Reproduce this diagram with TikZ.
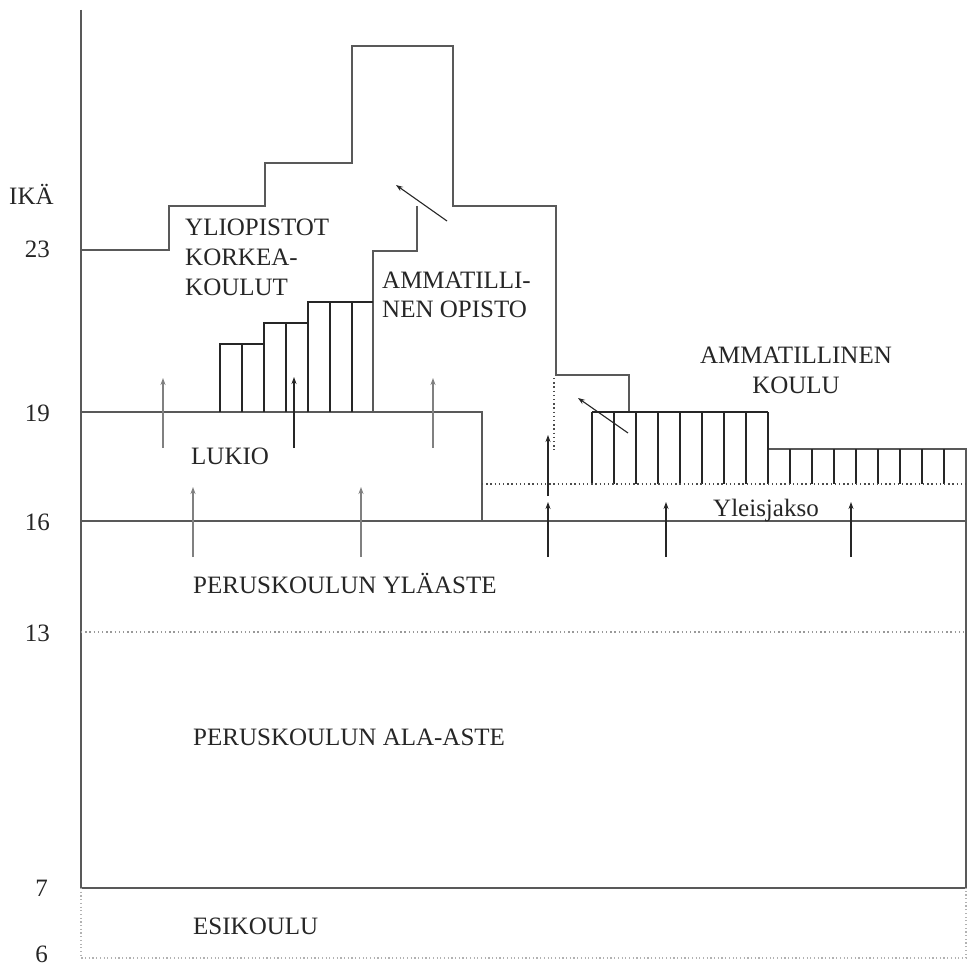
\documentclass[tikz,border=0pt]{standalone}
\usepackage{fontspec}
\setmainfont{Liberation Serif}
\usetikzlibrary{arrows.meta}
\begin{document}
\begin{tikzpicture}[x=1pt,y=-1pt,
  outline/.style={draw=black!65, line width=1.6pt, line join=miter},
  hatch/.style={draw=black!85, line width=1.1pt},
  dotline/.style={draw=black!40, line width=1.4pt, dash pattern=on 1.4pt off 2.8pt},
  faint/.style={draw=black!30, line width=1.2pt, dash pattern=on 1.2pt off 2.5pt},
  uparrow/.style={draw=black!85, line width=1.1pt, -{Stealth[length=7pt,width=5pt]}},
  greyarrow/.style={draw=black!50, line width=1.3pt, -{Stealth[length=7pt,width=5pt]}},
  lbl/.style={font=\fontsize{25}{29.5}\selectfont, inner sep=0pt, text=black!85},
  age/.style={lbl, anchor=base east}
]
\useasboundingbox (0,0) rectangle (969,968);

% age axis and levels
\draw[outline] (81,10) -- (81,888);
\draw[outline] (81,412) -- (482,412) -- (482,521);
\draw[outline] (81,521) -- (966,521);
\draw[outline] (81,888) -- (966,888);
\draw[dotline] (81,632) -- (966,632);
\draw[faint] (81,888) -- (81,958) -- (966,958) -- (966,888);

% upper staircase: universities and vocational colleges
\draw[outline] (81,250) -- (169,250) -- (169,206) -- (265,206) -- (265,163)
  -- (352,163) -- (352,46) -- (453,46) -- (453,206) -- (556,206) -- (556,375)
  -- (629,375) -- (629,412);
\draw[outline] (417,206) -- (417,251) -- (373,251) -- (373,412);
\draw[outline] (768,412) -- (768,449) -- (966,449) -- (966,888);

% hatched blocks beside the upper secondary school
\draw[hatch] (220,412) -- (220,344) -- (264,344);
\draw[hatch] (242,344) -- (242,412);
\draw[hatch] (264,412) -- (264,323) -- (308,323);
\draw[hatch] (286,323) -- (286,412);
\draw[hatch] (308,412) -- (308,302) -- (373,302);
\draw[hatch] (330,302) -- (330,412);
\draw[hatch] (352,302) -- (352,412);

% hatched blocks of the vocational school
\draw[hatch] (592,412) -- (768,412);
\foreach \x in {592,614,...,768} \draw[hatch] (\x,412) -- (\x,484);
\foreach \x in {790,812,...,944} \draw[hatch] (\x,449) -- (\x,484);
\draw[dotline, draw=black!70] (482,484) -- (966,484);
\draw[dotline, draw=black!70] (554,378) -- (554,450);

% transitions
\draw[greyarrow] (163,448) -- (163,378);
\draw[greyarrow] (433,448) -- (433,378);
\draw[greyarrow] (193,557) -- (193,487);
\draw[greyarrow] (361,557) -- (361,487);
\draw[uparrow] (294,448) -- (294,377);
\draw[uparrow] (548,557) -- (548,502);
\draw[uparrow] (548,496) -- (548,435);
\draw[uparrow] (666,557) -- (666,502);
\draw[uparrow] (851,557) -- (851,502);
\draw[uparrow] (447,221) -- (396,185);
\draw[uparrow] (628,433) -- (578,398);

% ages
\node[lbl, anchor=base west] (ika) at (9,205) {IKÄ};
\node[age] (a23) at (50,258) {23};
\node[age] (a19) at (50,421) {19};
\node[age] (a16) at (50,530) {16};
\node[age] (a13) at (50,641) {13};
\node[age] (a7) at (48,896) {7};
\node[age] (a6) at (48,962) {6};

% school names (base anchor sits on the last line)
\node[lbl, anchor=base west, align=left] (yo) at (185,295) {YLIOPISTOT\\KORKEA-\\KOULUT};
\node[lbl, anchor=base west, align=left] (opisto) at (382,318) {AMMATILLI-\\NEN OPISTO};
\node[lbl, anchor=base, align=center] (koulu) at (796,393) {AMMATILLINEN\\KOULU};
\node[lbl, anchor=base west] (lukio) at (191,464) {LUKIO};
\node[lbl, anchor=base west] (yleis) at (713,516) {Yleisjakso};
\node[lbl, anchor=base west] (ylaaste) at (193,593) {PERUSKOULUN YLÄASTE};
\node[lbl, anchor=base west] (alaaste) at (193,745) {PERUSKOULUN ALA-ASTE};
\node[lbl, anchor=base west] (esi) at (193,934) {ESIKOULU};
\end{tikzpicture}
\end{document}
